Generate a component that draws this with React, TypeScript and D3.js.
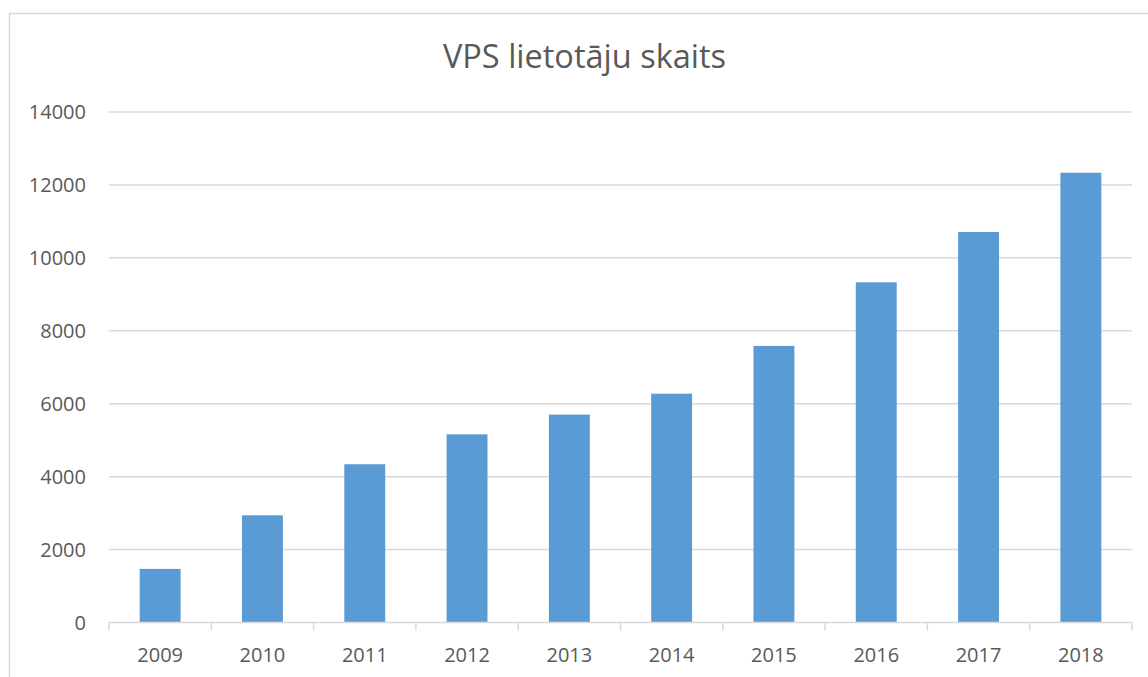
import * as d3 from 'd3'
import { useEffect, useRef } from 'react'

const years = ['2009', '2010', '2011', '2012', '2013', '2014', '2015', '2016', '2017', '2018']
const users = [1470, 2940, 4340, 5160, 5700, 6275, 7585, 9330, 10710, 12335]
const yTicks = [0, 2000, 4000, 6000, 8000, 10000, 12000, 14000]
const title = 'VPS lietotāju skaits'

export default function App() {
  const ref = useRef<SVGSVGElement>(null)

  useEffect(() => {
    if (!ref.current) return
    const svg = d3.select(ref.current)
    svg.selectAll('*').remove()

    const width = 1148
    const height = 677
    const margin = { top: 112, right: 16, bottom: 54.5, left: 109 }
    const font = '"Open Sans", "Liberation Sans", sans-serif'
    const textColor = '#595959'
    const gridColor = '#d9d9d9'

    svg.attr('width', width).attr('height', height)

    // Chart frame (cropped on the right and bottom)
    svg
      .append('rect')
      .attr('x', 9.5)
      .attr('y', 13.5)
      .attr('width', 1200)
      .attr('height', 700)
      .attr('fill', 'white')
      .attr('stroke', gridColor)
      .attr('stroke-width', 1.5)

    const x = d3
      .scaleBand()
      .domain(years)
      .range([margin.left, width - margin.right])
      .paddingInner(0.6)
      .paddingOuter(0.3)

    const y = d3
      .scaleLinear()
      .domain([0, 14000])
      .range([height - margin.bottom, margin.top])

    // Gridlines
    svg
      .append('g')
      .selectAll('line')
      .data(yTicks.filter(d => d > 0))
      .enter()
      .append('line')
      .attr('x1', margin.left)
      .attr('x2', width - margin.right)
      .attr('y1', d => y(d))
      .attr('y2', d => y(d))
      .attr('stroke', gridColor)
      .attr('stroke-width', 1.5)

    // Y labels
    svg
      .append('g')
      .selectAll('text')
      .data(yTicks)
      .enter()
      .append('text')
      .attr('x', 86)
      .attr('y', d => y(d))
      .attr('dy', '0.36em')
      .attr('text-anchor', 'end')
      .style('font-family', font)
      .style('font-size', '20px')
      .style('fill', textColor)
      .text(d => d)

    // Bars
    svg
      .append('g')
      .selectAll('rect')
      .data(years.map((yr, i) => ({ yr, v: users[i] })))
      .enter()
      .append('rect')
      .attr('x', d => x(d.yr)!)
      .attr('y', d => y(d.v))
      .attr('width', x.bandwidth())
      .attr('height', d => y(0) - y(d.v))
      .attr('fill', '#5b9bd5')

    // X axis line and ticks
    const step = x.step()
    const axisY = y(0)
    svg
      .append('line')
      .attr('x1', margin.left)
      .attr('x2', width - margin.right)
      .attr('y1', axisY)
      .attr('y2', axisY)
      .attr('stroke', gridColor)
      .attr('stroke-width', 1.5)

    svg
      .append('g')
      .selectAll('line')
      .data(d3.range(years.length + 1))
      .enter()
      .append('line')
      .attr('x1', i => margin.left + i * step)
      .attr('x2', i => margin.left + i * step)
      .attr('y1', axisY)
      .attr('y2', axisY + 8)
      .attr('stroke', gridColor)
      .attr('stroke-width', 1.5)

    // X labels
    svg
      .append('g')
      .selectAll('text')
      .data(years)
      .enter()
      .append('text')
      .attr('x', d => x(d)! + x.bandwidth() / 2)
      .attr('y', 662)
      .attr('text-anchor', 'middle')
      .style('font-family', font)
      .style('font-size', '20px')
      .style('fill', textColor)
      .text(d => d)

    // Title
    svg
      .append('text')
      .attr('x', 584.5)
      .attr('y', 68)
      .attr('text-anchor', 'middle')
      .style('font-family', font)
      .style('font-size', '32.5px')
      .style('fill', textColor)
      .text(title)
  }, [])

  return (
    <svg
      ref={ref}
      style={{ position: 'fixed', left: 0, top: 0, background: 'white' }}
    ></svg>
  )
}
